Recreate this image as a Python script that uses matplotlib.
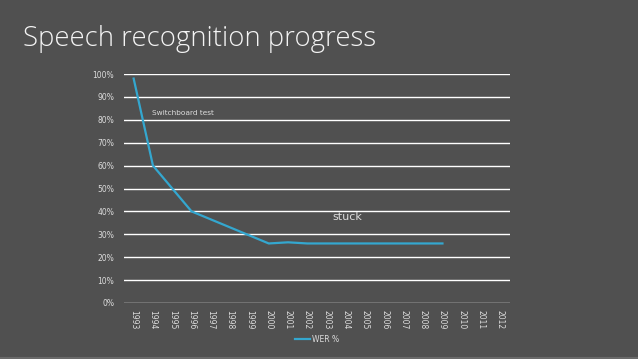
import numpy as np
import matplotlib.pyplot as plt
from matplotlib.ticker import PercentFormatter

years = [str(y) for y in range(1993, 2013)]
wer = [0.98, 0.60, 0.50, 0.40, 0.365, 0.33, 0.295, 0.26, 0.265, 0.26,
       0.26, 0.26, 0.26, 0.26, 0.26, 0.26, 0.26]
yticks = np.arange(0, 1.01, 0.1)

bg = '#505050'
fg = '#dcdcdc'
line_c = '#34a7cf'

fig = plt.figure(figsize=(6.38, 3.59), dpi=100, facecolor=bg)
ax = fig.add_axes([124 / 638, 1 - 303 / 359, 386 / 638, 229 / 359])
ax.set_facecolor(bg)

x = np.arange(len(years))
ax.plot(x[:len(wer)], wer, color=line_c, lw=1.6, label='WER %')

ax.set_xlim(-0.5, len(years) - 0.5)
ax.set_ylim(0, 1)
ax.set_yticks(yticks)
ax.yaxis.set_major_formatter(PercentFormatter(1.0, decimals=0))
ax.set_xticks(x)
ax.set_xticklabels(years, rotation=-90)
ax.grid(axis='y', color='white', lw=1)
ax.set_axisbelow(True)
for s in ax.spines.values():
    s.set_visible(False)
ax.tick_params(length=0, labelsize=5.5, colors=fg)
ax.tick_params(axis='y', pad=7)
ax.tick_params(axis='x', pad=5)

ax.text(0.95, 0.83, 'Switchboard test', color=fg, fontsize=5.3, va='center')
ax.text(10.3, 0.375, 'stuck', color=fg, fontsize=8, va='center')

leg = ax.legend(loc='upper center', bbox_to_anchor=(0.5, -0.11), frameon=False,
                fontsize=5.5, handlelength=2, handletextpad=0.2)
for t in leg.get_texts():
    t.set_color(fg)

fig.text(23 / 638, 1 - 46 / 359, 'Speech recognition progress', color='#f4f4f4',
         fontsize=19.8, family='Open Sans', fontweight='light', va='baseline')

# thin lighter strip at the slide bottom
fig.add_artist(plt.Line2D([0, 1], [1 / 359, 1 / 359], color='#6a6a6a', lw=1.5))

fig.savefig('out.png', dpi=100, facecolor=bg)
